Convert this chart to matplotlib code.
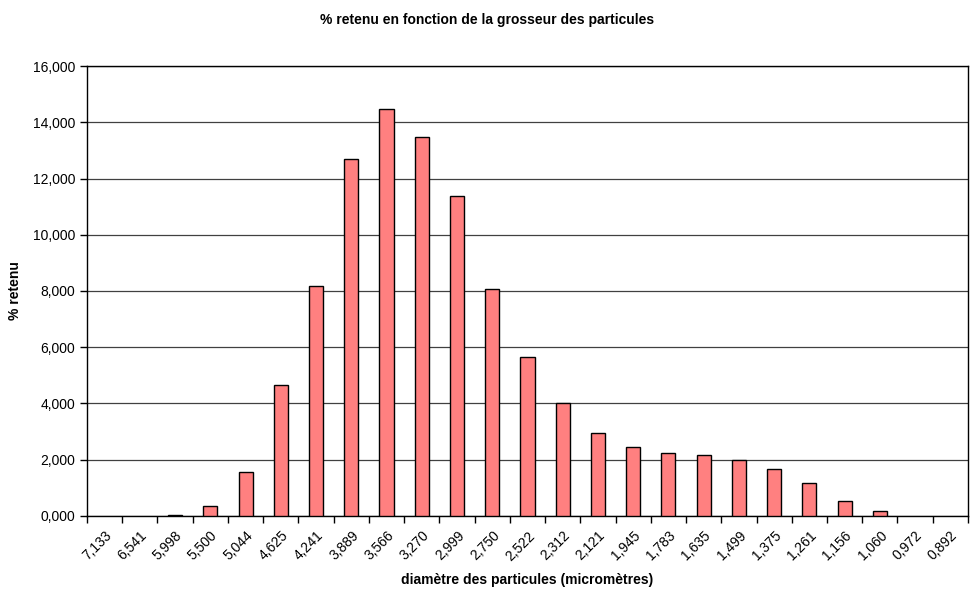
import matplotlib

matplotlib.use("Agg")
import matplotlib.pyplot as plt
from matplotlib.ticker import FuncFormatter, MultipleLocator, FixedLocator

plt.rcParams["font.family"] = ["Liberation Sans", "DejaVu Sans"]

# diamètres (micromètres), ordre décroissant comme dans le tableur
diametres = [
    "7,133", "6,541", "5,998", "5,500", "5,044", "4,625", "4,241", "3,889",
    "3,566", "3,270", "2,999", "2,750", "2,522", "2,312", "2,121", "1,945",
    "1,783", "1,635", "1,499", "1,375", "1,261", "1,156", "1,060", "0,972",
    "0,892",
]
retenu = [
    0.0, 0.0, 0.03, 0.36, 1.58, 4.65, 8.18, 12.69,
    14.47, 13.48, 11.38, 8.07, 5.65, 4.01, 2.95, 2.46,
    2.23, 2.16, 1.99, 1.66, 1.16, 0.52, 0.19, 0.0,
    0.0,
]

fig = plt.figure(figsize=(9.74, 5.92), dpi=100)
ax = fig.add_axes([0.0893, 0.1284, 0.9045, 0.7601])

pos = list(range(len(diametres)))
# pas de contour pour les classes vides (rien n'est dessiné dans Excel)
edges = [1.0 if v > 0 else 0.0 for v in retenu]
ax.bar(pos, retenu, width=0.4, color="#FF8080", edgecolor="black", linewidth=edges, zorder=3)

ax.set_xlim(-0.5, len(diametres) - 0.5)
ax.set_ylim(0, 16)
ax.yaxis.set_major_locator(MultipleLocator(2))
ax.yaxis.set_major_formatter(FuncFormatter(lambda v, p: "{:.3f}".format(v).replace(".", ",")))
ax.grid(True, axis="y", color="#404040", linewidth=0.9, zorder=0)

ax.set_xticks(pos)
ax.set_xticklabels(diametres, rotation=45, ha="right", rotation_mode="anchor", fontsize=10)
ax.tick_params(axis="x", which="major", length=0, pad=9)
ax.xaxis.set_minor_locator(FixedLocator([p - 0.5 for p in pos] + [len(pos) - 0.5]))
ax.tick_params(axis="x", which="minor", length=5, width=1.0, direction="out")
ax.tick_params(axis="y", length=5, width=1.0, direction="out", labelsize=10)

for side in ("left", "right", "top", "bottom"):
    ax.spines[side].set_linewidth(1.0)
    ax.spines[side].set_color("black")

ax.set_xlabel("diamètre des particules (micromètres)", fontsize=10, fontweight="bold", labelpad=7)
ax.set_ylabel("% retenu", fontsize=10, fontweight="bold", labelpad=8)
fig.suptitle("% retenu en fonction de la grosseur des particules", fontsize=10,
             fontweight="bold", x=0.5, y=0.978)

fig.savefig("out.png", dpi=100)
